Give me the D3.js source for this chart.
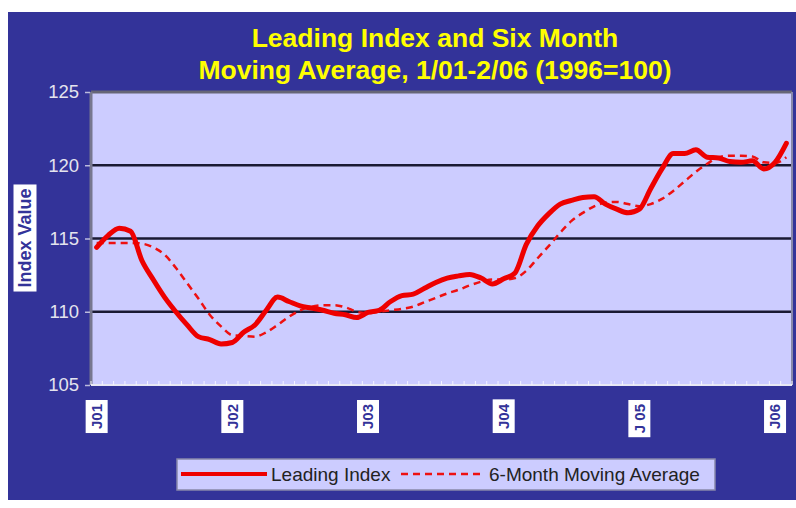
<!DOCTYPE html>
<html>
<head>
<meta charset="utf-8">
<script src="https://cdn.jsdelivr.net/npm/d3@7"></script>
<style>
  body { margin: 0; background: #fff; }
  svg { display: block; font-family: Arial, "Liberation Sans", sans-serif; }
</style>
</head>
<body>
<div id="chart"></div>
<script>
// monthly values, Jan 2001 .. Feb 2006
const leadingIndex = [
  114.4, 115.2, 115.7, 115.5, 113.5, 112.2, 111.0, 110.0, 109.1, 108.3, 108.1, 107.8,
  107.9, 108.6, 109.1, 110.1, 111.0, 110.7, 110.4, 110.25, 110.1, 109.9, 109.8, 109.6,
  109.95, 110.1, 110.7, 111.1, 111.2, 111.6, 112.0, 112.3, 112.45, 112.55, 112.3, 111.9,
  112.25, 112.65, 114.6, 115.85, 116.7, 117.35, 117.6, 117.8, 117.85, 117.35, 117.0, 116.75,
  117.0, 118.4, 119.75, 120.8, 120.8, 121.05, 120.55, 120.5, 120.25, 120.2, 120.3, 119.75,
  120.2, 121.5
];
const movingAvg = [
  114.7, 114.7, 114.7, 114.7, 114.65, 114.4, 113.9, 113.0, 111.95, 110.9, 109.8, 109.0,
  108.4, 108.35, 108.3, 108.6, 109.1, 109.65, 110.1, 110.35, 110.45, 110.45, 110.3, 110.0,
  109.9, 110.0, 110.1, 110.2, 110.35, 110.65, 110.95, 111.25, 111.5, 111.8, 112.05, 112.2,
  112.2, 112.3, 112.8, 113.65, 114.5, 115.4, 116.2, 116.75, 117.2, 117.45, 117.5, 117.35,
  117.2, 117.35, 117.7, 118.25, 118.9, 119.55, 120.1, 120.55, 120.65, 120.65, 120.6, 120.2,
  120.15, 120.55
];
const yearTicks = [0, 12, 24, 36, 48, 60];
const yearLabels = ["J01", "J02", "J03", "J04", "J 05", "J06"];
const yTicks = [105, 110, 115, 120, 125];
const titleLines = ["Leading Index and Six Month", "Moving Average, 1/01-2/06 (1996=100)"];
const seriesNames = ["Leading Index", "6-Month Moving Average"];

const width = 796, height = 508;
const plot = { left: 91, right: 792, top: 92, bottom: 385 };

const svg = d3.select("#chart").append("svg")
  .attr("width", width)
  .attr("height", height);

// white frame + blue background
svg.append("rect").attr("width", width).attr("height", height).attr("fill", "#fff");
svg.append("rect")
  .attr("x", 8).attr("y", 12)
  .attr("width", width - 8).attr("height", 488)
  .attr("fill", "#333399");

const idx = d3.range(leadingIndex.length);
const x = d3.scalePoint()
  .domain(idx)
  .range([plot.left, plot.right])
  .padding(0.5);
const step = x.step();

const y = d3.scaleLinear()
  .domain([105, 125])
  .range([plot.bottom, plot.top]);

// plot area
svg.append("rect")
  .attr("x", plot.left).attr("y", plot.top)
  .attr("width", plot.right - plot.left).attr("height", plot.bottom - plot.top)
  .attr("fill", "#ccccff");

// gridlines
svg.append("g")
  .selectAll("line")
  .data(yTicks.filter(d => d > 105 && d < 125))
  .join("line")
  .attr("x1", plot.left).attr("x2", plot.right)
  .attr("y1", d => y(d)).attr("y2", d => y(d))
  .attr("stroke", "#1a1a33")
  .attr("stroke-width", 2.5);

// frame: dark shadow top/left, gray right, light bottom
svg.append("line")
  .attr("x1", plot.left).attr("x2", plot.right)
  .attr("y1", plot.top).attr("y2", plot.top)
  .attr("stroke", "#666677").attr("stroke-width", 3);
svg.append("line")
  .attr("x1", plot.right).attr("x2", plot.right)
  .attr("y1", plot.top).attr("y2", plot.bottom)
  .attr("stroke", "#8888aa").attr("stroke-width", 2);
svg.append("line")
  .attr("x1", plot.left).attr("x2", plot.left)
  .attr("y1", plot.top).attr("y2", plot.bottom)
  .attr("stroke", "#77778f").attr("stroke-width", 3);

// y axis
const yAxis = d3.axisLeft(y)
  .tickValues(yTicks)
  .tickSize(5)
  .tickPadding(6);
const gy = svg.append("g")
  .attr("transform", `translate(${plot.left - 1}, 0)`)
  .call(yAxis);
gy.select(".domain").remove();
gy.selectAll(".tick line").attr("stroke", "#bbbbdd").attr("stroke-width", 1.5);
gy.selectAll(".tick text")
  .attr("fill", "#e4e4ee")
  .attr("font-size", 18.5)
  .attr("font-family", "Arial, 'Liberation Sans', sans-serif");

// x axis: light bottom line with small inside ticks at category edges
svg.append("line")
  .attr("x1", plot.left).attr("x2", plot.right)
  .attr("y1", plot.bottom).attr("y2", plot.bottom)
  .attr("stroke", "#e8e8f4").attr("stroke-width", 2);
svg.append("g")
  .selectAll("line")
  .data(d3.range(leadingIndex.length + 1))
  .join("line")
  .attr("x1", d => plot.left + d * step).attr("x2", d => plot.left + d * step)
  .attr("y1", plot.bottom).attr("y2", plot.bottom - 4)
  .attr("stroke", "#f4f4ff").attr("stroke-width", 1);

// x labels: rotated, white boxes
const xl = svg.append("g")
  .selectAll("g")
  .data(yearTicks)
  .join("g")
  .attr("transform", d => `translate(${x(d)}, 400) rotate(-90)`);
xl.each(function (d, i) {
  const g = d3.select(this);
  const t = g.append("text")
    .attr("text-anchor", "end")
    .attr("dy", "0.35em")
    .attr("x", -4)
    .attr("font-size", 15)
    .attr("font-weight", "bold")
    .attr("fill", "#333399")
    .text(yearLabels[i]);
  const bb = t.node().getBBox();
  g.insert("rect", "text")
    .attr("x", bb.x - 4).attr("y", -11)
    .attr("width", bb.width + 8).attr("height", 22)
    .attr("fill", "#ffffff");
});

// series lines
const line = d3.line()
  .x((d, i) => x(i))
  .y(d => y(d))
  .curve(d3.curveMonotoneX);

svg.append("path")
  .datum(movingAvg)
  .attr("d", line)
  .attr("fill", "none")
  .attr("stroke", "#ee1111")
  .attr("stroke-width", 2.5)
  .attr("stroke-dasharray", "7,5");

svg.append("path")
  .datum(leadingIndex)
  .attr("d", line)
  .attr("fill", "none")
  .attr("stroke", "#ee0000")
  .attr("stroke-width", 5)
  .attr("stroke-linejoin", "round")
  .attr("stroke-linecap", "round");

// title
svg.append("g")
  .selectAll("text")
  .data(titleLines)
  .join("text")
  .attr("x", 435)
  .attr("y", (d, i) => 47 + i * 32)
  .attr("text-anchor", "middle")
  .attr("font-size", 26.5)
  .attr("font-weight", "bold")
  .attr("fill", "#ffff00")
  .text(d => d);

// y axis title
const yt = svg.append("g").attr("transform", "translate(25, 238) rotate(-90)");
const ytText = yt.append("text")
  .attr("text-anchor", "middle")
  .attr("dy", "0.35em")
  .attr("font-size", 18)
  .attr("font-weight", "bold")
  .attr("fill", "#333399")
  .text("Index Value");
const ytb = ytText.node().getBBox();
yt.insert("rect", "text")
  .attr("x", ytb.x - 4).attr("y", -11.5)
  .attr("width", ytb.width + 8).attr("height", 23)
  .attr("fill", "#ffffff");

// legend
const legend = svg.append("g");
legend.append("rect")
  .attr("x", 177).attr("y", 459)
  .attr("width", 538).attr("height", 31)
  .attr("fill", "#ccccff")
  .attr("stroke", "#8888aa")
  .attr("stroke-width", 1.5);
legend.append("line")
  .attr("x1", 181).attr("x2", 267)
  .attr("y1", 474).attr("y2", 474)
  .attr("stroke", "#ee0000").attr("stroke-width", 4);
legend.append("text")
  .attr("x", 271).attr("y", 481)
  .attr("font-size", 19)
  .attr("fill", "#222")
  .text(seriesNames[0]);
legend.append("line")
  .attr("x1", 401).attr("x2", 480)
  .attr("y1", 474).attr("y2", 474)
  .attr("stroke", "#ee1111").attr("stroke-width", 2.5)
  .attr("stroke-dasharray", "7,5");
legend.append("text")
  .attr("x", 489).attr("y", 481)
  .attr("font-size", 19)
  .attr("fill", "#222")
  .text(seriesNames[1]);
</script>
</body>
</html>
